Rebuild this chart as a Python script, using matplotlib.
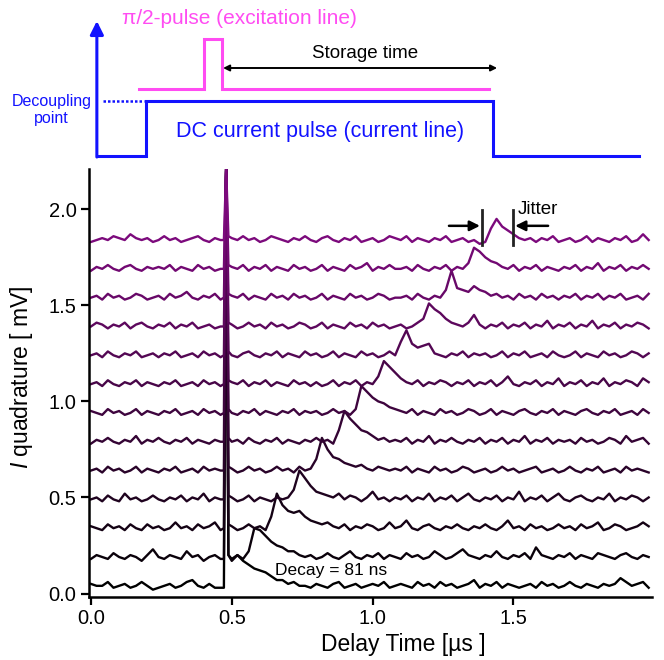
import numpy as np
import matplotlib.pyplot as plt
from matplotlib.colors import LinearSegmentedColormap
from matplotlib.ticker import FormatStrFormatter

plt.rcParams['font.family'] = ['Liberation Sans', 'DejaVu Sans']
plt.rcParams['mathtext.fontset'] = 'custom'
plt.rcParams['mathtext.it'] = 'Liberation Sans:italic'
plt.rcParams['mathtext.rm'] = 'Liberation Sans'

# time grid [us]: coarse before/after the excitation spike, fine around it
t_pre = np.arange(24) * 0.02          # 0.00 .. 0.46
t_spike = [0.472, 0.48, 0.488]
t_post = 0.50 + np.arange(75) * 0.02  # 0.50 .. 1.98
t = np.concatenate([t_pre, t_spike, t_post])

# I quadrature traces in units of 10 uV (0.01 mV), bottom to top
# rows: 0.00-0.22 | 0.24-0.46 | spike | 0.50-0.78 | 0.80-1.08 | 1.10-1.38 | 1.40-1.68 | 1.70-1.98
tr0 = [5, 4, 4, 6, 3, 4, 5, 3, 4, 6, 4, 2,
       3, 4, 5, 3, 4, 6, 7, 4, 3, 5, 3, 3,
       3, 221, 20,
       18, 20, 17, 15, 13, 12, 11, 9, 7, 7, 5, 6, 4, 4, 3,
       5, 4, 3, 5, 6, 3, 4, 5, 3, 4, 5, 4, 6, 3, 4,
       5, 4, 3, 6, 4, 5, 3, 6, 4, 5, 3, 4, 5, 7, 3,
       5, 4, 6, 3, 5, 4, 3, 4, 5, 3, 6, 4, 5, 3, 4,
       6, 4, 3, 5, 4, 3, 5, 4, 5, 8, 6, 4, 5, 6, 3]
tr1 = [18, 20, 19, 18, 21, 19, 18, 20, 19, 17, 20, 23,
       19, 18, 20, 19, 18, 22, 19, 20, 17, 19, 20, 18,
       18, 221, 20,
       17, 20, 18, 22, 34, 33, 30, 27, 25, 24, 22, 22, 20, 19, 20,
       18, 19, 21, 19, 18, 20, 22, 19, 18, 20, 19, 21, 18, 20, 19,
       18, 21, 19, 20, 18, 19, 22, 20, 18, 19, 21, 23, 20, 19, 18,
       20, 19, 22, 19, 18, 20, 19, 21, 18, 24, 20, 19, 18, 20, 19,
       21, 18, 20, 19, 18, 21, 20, 19, 18, 20, 21, 19, 18, 20, 19]
tr2 = [35, 34, 33, 36, 34, 35, 33, 36, 34, 33, 36, 34,
       35, 33, 34, 37, 34, 35, 33, 36, 34, 35, 37, 33,
       34, 221, 36,
       35, 33, 34, 36, 34, 35, 33, 40, 52, 46, 43, 42, 43, 40, 38,
       37, 36, 37, 35, 34, 36, 33, 35, 34, 36, 35, 33, 34, 37, 34,
       35, 38, 34, 33, 35, 36, 34, 33, 35, 34, 36, 34, 33, 35, 34,
       36, 34, 33, 35, 38, 34, 35, 33, 36, 34, 35, 33, 34, 36, 34,
       35, 33, 36, 34, 35, 37, 33, 34, 36, 35, 33, 34, 35, 37, 35]
tr3 = [49, 50, 48, 51, 49, 48, 52, 49, 50, 48, 49, 51,
       49, 48, 50, 49, 51, 48, 50, 49, 52, 48, 50, 49,
       49, 221, 51,
       50, 48, 49, 51, 48, 50, 49, 48, 50, 49, 50, 54, 64, 60, 56,
       53, 52, 51, 50, 52, 49, 51, 50, 48, 50, 53, 49, 50, 48, 50,
       49, 51, 48, 50, 49, 52, 48, 50, 49, 51, 48, 50, 52, 49, 48,
       50, 49, 51, 48, 50, 49, 53, 48, 50, 49, 51, 48, 50, 52, 49,
       48, 50, 51, 49, 48, 50, 49, 52, 48, 50, 49, 51, 50, 48, 50]
tr4 = [64, 65, 63, 66, 64, 65, 63, 64, 66, 63, 65, 64,
       63, 65, 64, 66, 63, 64, 65, 63, 66, 64, 65, 64,
       64, 221, 66,
       65, 63, 64, 66, 64, 65, 63, 64, 66, 64, 65, 63, 66, 64, 65,
       70, 81, 75, 71, 70, 68, 67, 66, 67, 65, 64, 66, 65, 64, 65,
       64, 66, 63, 65, 64, 63, 66, 64, 65, 63, 64, 66, 65, 63, 64,
       65, 63, 64, 66, 64, 65, 63, 64, 65, 66, 63, 64, 65, 63, 64,
       66, 64, 63, 65, 64, 66, 63, 64, 65, 63, 66, 64, 65, 64, 63]
tr5 = [78, 80, 79, 81, 79, 78, 80, 79, 82, 78, 80, 79,
       81, 79, 78, 80, 79, 81, 78, 80, 79, 78, 80, 79,
       79, 221, 81,
       79, 80, 78, 81, 79, 78, 80, 79, 81, 78, 80, 79, 78, 80, 79,
       81, 79, 80, 78, 85, 95, 91, 88, 85, 84, 82, 80, 81, 79, 80,
       79, 81, 78, 80, 79, 82, 78, 80, 79, 81, 79, 78, 80, 79, 81,
       78, 80, 79, 81, 78, 80, 79, 82, 78, 80, 79, 81, 78, 80, 79,
       80, 78, 81, 79, 80, 78, 79, 81, 80, 78, 82, 79, 80, 81, 78]
tr6 = [95, 94, 93, 96, 94, 95, 93, 94, 96, 93, 95, 94,
       93, 95, 94, 96, 93, 94, 95, 93, 96, 94, 95, 93,
       94, 221, 96,
       94, 93, 95, 94, 96, 93, 95, 94, 93, 95, 94, 96, 93, 95, 94,
       95, 93, 94, 96, 94, 95, 93, 96, 108, 105, 102, 100, 99, 97, 96,
       95, 94, 96, 93, 95, 94, 93, 96, 94, 95, 93, 94, 96, 95, 93,
       94, 96, 93, 95, 94, 93, 95, 96, 94, 93, 95, 94, 96, 93, 95,
       94, 93, 95, 96, 94, 93, 95, 94, 96, 93, 94, 95, 93, 96, 94]
tr7 = [109, 110, 108, 111, 109, 108, 110, 109, 111, 108, 110, 109,
       108, 110, 109, 111, 108, 109, 110, 108, 111, 109, 110, 108,
       109, 221, 111,
       110, 109, 111, 108, 110, 109, 111, 108, 110, 109, 108, 111, 109, 110, 108,
       110, 108, 109, 111, 108, 110, 109, 111, 108, 110, 109, 113, 121, 118, 115,
       112, 110, 109, 111, 108, 110, 109, 111, 110, 108, 110, 109, 111, 108, 110,
       109, 111, 108, 110, 113, 109, 108, 110, 109, 111, 108, 110, 109, 112, 108,
       110, 109, 111, 108, 110, 109, 112, 108, 110, 109, 111, 110, 108, 112, 110]
tr8 = [124, 125, 123, 126, 124, 123, 125, 124, 126, 123, 124, 125,
       123, 125, 124, 126, 123, 124, 125, 123, 126, 124, 125, 123,
       124, 221, 126,
       124, 123, 125, 126, 124, 123, 125, 124, 126, 123, 125, 124, 123, 126, 124,
       125, 123, 124, 126, 123, 125, 124, 123, 126, 124, 125, 123, 124, 126, 124,
       131, 137, 130, 128, 129, 130, 125, 124, 123, 125, 124, 126, 123, 125, 124,
       125, 123, 124, 126, 123, 125, 124, 126, 123, 124, 125, 123, 126, 124, 123,
       124, 126, 123, 125, 124, 123, 126, 124, 125, 123, 124, 126, 125, 123, 125]
tr9 = [139, 141, 140, 138, 140, 139, 141, 138, 140, 141, 139, 138,
       140, 139, 141, 138, 140, 139, 141, 138, 139, 140, 138, 139,
       139, 221, 141,
       140, 138, 139, 141, 139, 140, 138, 141, 139, 140, 138, 139, 141, 140, 138,
       139, 141, 138, 140, 139, 138, 141, 139, 140, 138, 141, 139, 140, 138, 139,
       140, 138, 139, 141, 143, 151, 148, 146, 143, 141, 140, 139, 141, 145, 140,
       138, 140, 139, 141, 138, 140, 139, 141, 138, 140, 139, 142, 138, 140, 139,
       141, 138, 140, 139, 142, 138, 140, 139, 141, 138, 140, 139, 141, 140, 138]
tr10 = [154, 155, 153, 156, 154, 155, 153, 154, 156, 155, 153, 154,
        155, 153, 156, 154, 155, 157, 154, 153, 155, 154, 156, 153,
        154, 221, 156,
        155, 154, 156, 153, 155, 154, 153, 156, 154, 155, 153, 156, 154, 155, 153,
        154, 156, 153, 155, 154, 153, 156, 154, 155, 153, 154, 156, 155, 153, 154,
        154, 155, 153, 156, 154, 153, 155, 154, 158, 168, 159, 158, 157, 160, 158,
        157, 155, 156, 154, 155, 153, 156, 154, 155, 153, 156, 154, 155, 153, 155,
        154, 156, 153, 155, 154, 156, 153, 155, 154, 156, 153, 154, 155, 153, 156]
tr11 = [168, 170, 169, 171, 169, 168, 170, 171, 169, 168, 170, 169,
        170, 169, 171, 168, 170, 169, 168, 171, 169, 170, 168, 169,
        169, 221, 171,
        170, 169, 171, 168, 170, 169, 171, 168, 170, 169, 168, 171, 169, 170, 168,
        169, 171, 168, 170, 169, 168, 171, 169, 170, 172, 168, 170, 169, 171, 169,
        169, 170, 168, 171, 169, 168, 170, 169, 171, 168, 170, 169, 172, 180, 178,
        175, 173, 172, 170, 169, 171, 168, 170, 169, 171, 168, 170, 169, 168, 170,
        169, 171, 168, 170, 169, 172, 168, 170, 169, 171, 168, 170, 169, 171, 169]
tr12 = [183, 184, 185, 184, 186, 185, 184, 187, 185, 184, 185, 183,
        184, 186, 184, 185, 183, 184, 185, 186, 184, 183, 185, 184,
        184, 221, 186,
        185, 184, 186, 184, 185, 183, 184, 186, 185, 184, 183, 185, 184, 186, 184,
        183, 185, 186, 184, 183, 185, 184, 186, 183, 184, 185, 183, 184, 186, 185,
        184, 186, 183, 185, 184, 183, 185, 184, 186, 183, 184, 185, 183, 184, 182,
        183, 190, 195, 191, 189, 187, 185, 184, 185, 183, 185, 184, 186, 183, 184,
        185, 183, 184, 186, 183, 185, 184, 183, 185, 184, 186, 183, 184, 187, 184]
traces = [tr0, tr1, tr2, tr3, tr4, tr5, tr6, tr7, tr8, tr9, tr10, tr11, tr12]

# pulse sequence sketch (times in us)
dc_times = [0.021, 0.195, 1.429, 1.946]      # start, rise, fall, end
pi2_times = [0.170, 0.401, 0.465, 1.413]     # start, rise, fall, end
storage = [0.469, 1.442]
decoupling = [0.043, 0.19]
jitter_bars = [1.388, 1.499]

blue = '#1212ff'
magenta = '#ff4cf2'

fig = plt.figure(figsize=(6.64, 6.60), dpi=100)
ax = fig.add_axes([0.134, 0.0955, 0.848, 0.6485])

cmap = LinearSegmentedColormap.from_list('bp', ['#000000', '#7c0a7c'])
for i, tr in enumerate(traces):
    ax.plot(t, np.array(tr) / 100.0, color=cmap(i / (len(traces) - 1)), lw=1.7,
            solid_joinstyle='round')

ax.set_xlim(-0.007, 1.992)
ax.set_ylim(-0.018, 2.21)
ax.set_xticks([0.0, 0.5, 1.0, 1.5])
ax.set_yticks([0.0, 0.5, 1.0, 1.5, 2.0])
ax.xaxis.set_major_formatter(FormatStrFormatter('%.1f'))
ax.yaxis.set_major_formatter(FormatStrFormatter('%.1f'))
for s in ['top', 'right']:
    ax.spines[s].set_visible(False)
for s in ['left', 'bottom']:
    ax.spines[s].set_linewidth(1.8)
ax.tick_params(direction='out', length=6, width=1.6, labelsize=14.5, pad=3)
ax.set_xlabel('Delay Time [\u00b5s ]', fontsize=16.5)
ax.xaxis.set_label_coords(0.558, -0.085)
ax.set_ylabel('$\\mathit{I}$ quadrature [ mV]', fontsize=16.5)
ax.yaxis.set_label_coords(-0.095, 0.514)

ax.text(0.653, 0.096, 'Decay = 81 ns', fontsize=12.5, va='baseline', ha='left')

# jitter marker
for xb in jitter_bars:
    ax.plot([xb, xb], [1.815, 1.997], color='#222222', lw=2)
ax.annotate('', xy=(1.381, 1.914), xytext=(1.271, 1.914),
            arrowprops=dict(arrowstyle='-|>', lw=1.8, color='black',
                            mutation_scale=15, shrinkA=0, shrinkB=0))
ax.annotate('', xy=(1.506, 1.914), xytext=(1.623, 1.914),
            arrowprops=dict(arrowstyle='-|>', lw=1.8, color='black',
                            mutation_scale=15, shrinkA=0, shrinkB=0))
ax.text(1.516, 1.997, 'Jitter', fontsize=13.5, va='center', ha='left')

# pulse sketch above the data, same time axis, y in pixel-like units
axs = fig.add_axes([0.134, 0.75, 0.848, 0.25])
axs.set_xlim(ax.get_xlim())
axs.set_ylim(165, 0)
axs.axis('off')

lo, hi = 156, 101
a, r, f, e = dc_times
axs.plot([a, r, r, f, f, e], [lo, lo, hi, hi, lo, lo], color=blue, lw=2.2,
         solid_joinstyle='miter')
axs.annotate('', xy=(a, 21), xytext=(a, lo + 1),
             arrowprops=dict(arrowstyle='-|>', lw=2.2, color=blue,
                             mutation_scale=20, shrinkA=0, shrinkB=0))
axs.plot(decoupling, [hi, hi], color=blue, lw=1.8, ls=(0, (1, 0.8)))

plo, phi = 89, 39
a, r, f, e = pi2_times
axs.plot([a, r, r, f, f, e], [plo, plo, phi, phi, plo, plo], color=magenta,
         lw=2.2, solid_joinstyle='miter')

axs.annotate('', xy=(storage[0], 68), xytext=(storage[1], 68),
             arrowprops=dict(arrowstyle='<|-|>', lw=1.4, color='black',
                             mutation_scale=9, shrinkA=0, shrinkB=0))
axs.text(0.973, 54, 'Storage time', fontsize=13.5, ha='center', va='center')
axs.text(0.110, 19, '\u03c0/2-pulse (excitation line)', fontsize=15,
         color=magenta, ha='left', va='center', clip_on=False)
axs.text(0.302, 132, 'DC current pulse (current line)', fontsize=15.5,
         color=blue, ha='left', va='center')
axs.text(-0.140, 110, 'Decoupling\npoint', fontsize=11.5, color=blue,
         ha='center', va='center', multialignment='center', linespacing=1.15,
         clip_on=False)

fig.savefig('out.png', dpi=100)
